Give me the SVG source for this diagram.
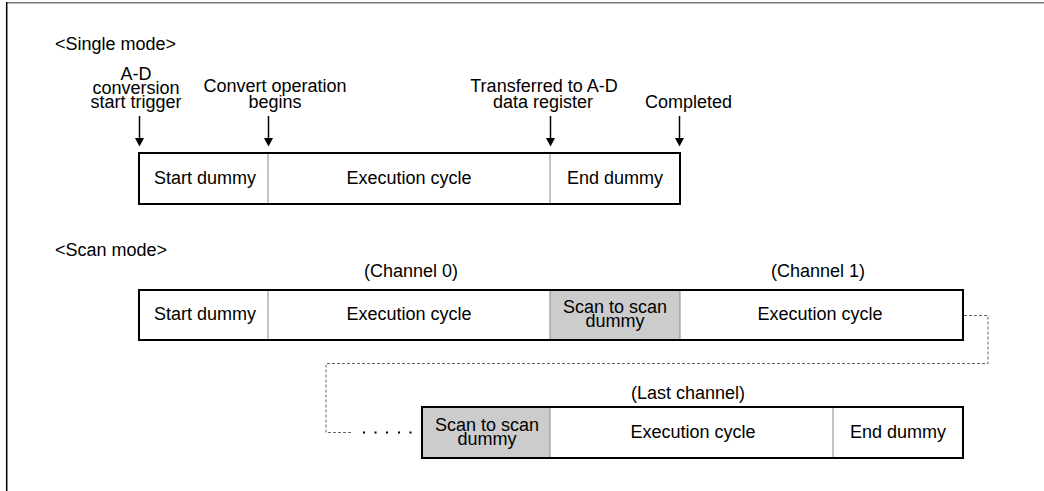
<svg xmlns="http://www.w3.org/2000/svg" width="1044" height="491" viewBox="0 0 1044 491">
<style>
text{font-family:"Liberation Sans",Arial,sans-serif;font-size:18px;fill:#000}
.c{text-anchor:middle}
.box{fill:#fff;stroke:#000;stroke-width:2}
.gray{fill:#ccc}
.div{stroke:#888;stroke-width:1}
.arr{stroke:#000;stroke-width:1.5;fill:none}
.head{fill:#000}
.dash{stroke:#666;stroke-width:1;fill:none;stroke-dasharray:3 2}
</style>
<rect x="0" y="0" width="1044" height="491" fill="#fff"/>
<g id="frame">
<line x1="6" y1="2.7" x2="1044" y2="2.7" stroke="#777" stroke-width="1.5"/>
<line x1="6.7" y1="2" x2="6.7" y2="491" stroke="#000" stroke-width="1.5"/>
</g>
<g id="single-title"><text x="55" y="50">&lt;Single mode&gt;</text></g>
<g id="label-trigger">
<text class="c" x="136" y="80">A-D</text>
<text class="c" x="136" y="94">conversion</text>
<text class="c" x="136" y="108">start trigger</text>
</g>
<g id="label-convert">
<text class="c" x="275" y="92">Convert operation</text>
<text class="c" x="275" y="108">begins</text>
</g>
<g id="label-transferred">
<text class="c" x="544" y="92">Transferred to A-D</text>
<text class="c" x="543" y="108">data register</text>
</g>
<g id="label-completed"><text x="645" y="108">Completed</text></g>
<g id="single-box">
<rect class="box" x="139" y="153" width="541" height="51"/>
<line class="div" x1="268" y1="154" x2="268" y2="203"/>
<line class="div" x1="550" y1="154" x2="550" y2="203"/>
<text class="c" x="205" y="184">Start dummy</text>
<text class="c" x="409" y="184">Execution cycle</text>
<text class="c" x="615" y="184">End dummy</text>
</g>
<g id="scan-title"><text x="55" y="256">&lt;Scan mode&gt;</text></g>
<g id="label-ch0"><text class="c" x="411" y="277">(Channel 0)</text></g>
<g id="label-ch1"><text class="c" x="818" y="277">(Channel 1)</text></g>
<g id="scan-box1">
<rect class="box" x="139" y="290" width="824" height="50"/>
<rect class="gray" x="550" y="291" width="130" height="48"/>
<line class="div" x1="268" y1="291" x2="268" y2="339"/>
<line class="div" x1="550" y1="291" x2="550" y2="339"/>
<line class="div" x1="680" y1="291" x2="680" y2="339"/>
<text class="c" x="205" y="320">Start dummy</text>
<text class="c" x="409" y="320">Execution cycle</text>
<text class="c" x="615" y="313">Scan to scan</text>
<text class="c" x="615" y="327">dummy</text>
<text class="c" x="820" y="320">Execution cycle</text>
</g>
<g id="label-last"><text class="c" x="688" y="399">(Last channel)</text></g>
<g id="scan-box2">
<rect class="box" x="422" y="407" width="541" height="51"/>
<rect class="gray" x="423" y="408" width="127" height="49"/>
<line class="div" x1="550" y1="408" x2="550" y2="457"/>
<line class="div" x1="833" y1="408" x2="833" y2="457"/>
<text class="c" x="487" y="431">Scan to scan</text>
<text class="c" x="487" y="445">dummy</text>
<text class="c" x="693" y="438">Execution cycle</text>
<text class="c" x="898" y="438">End dummy</text>
</g>
<g id="connectors">
<line class="arr" x1="139.5" y1="116" x2="139.5" y2="139"/>
<polygon class="head" points="135,138 144,138 139.5,146.5"/>
<line class="arr" x1="268.5" y1="116" x2="268.5" y2="139"/>
<polygon class="head" points="264,138 273,138 268.5,146.5"/>
<line class="arr" x1="550.5" y1="116" x2="550.5" y2="139"/>
<polygon class="head" points="546,138 555,138 550.5,146.5"/>
<line class="arr" x1="679.5" y1="116" x2="679.5" y2="139"/>
<polygon class="head" points="675,138 684,138 679.5,146.5"/>
<polyline class="dash" points="964,315.5 988,315.5 988,363.5 326,363.5 326,432.5 352,432.5"/>
<g fill="#000">
<rect x="363" y="431.5" width="2" height="2"/>
<rect x="374.5" y="431.5" width="2" height="2"/>
<rect x="386" y="431.5" width="2" height="2"/>
<rect x="398" y="431.5" width="2" height="2"/>
<rect x="409.5" y="431.5" width="2" height="2"/>
</g>
</g>
</svg>
